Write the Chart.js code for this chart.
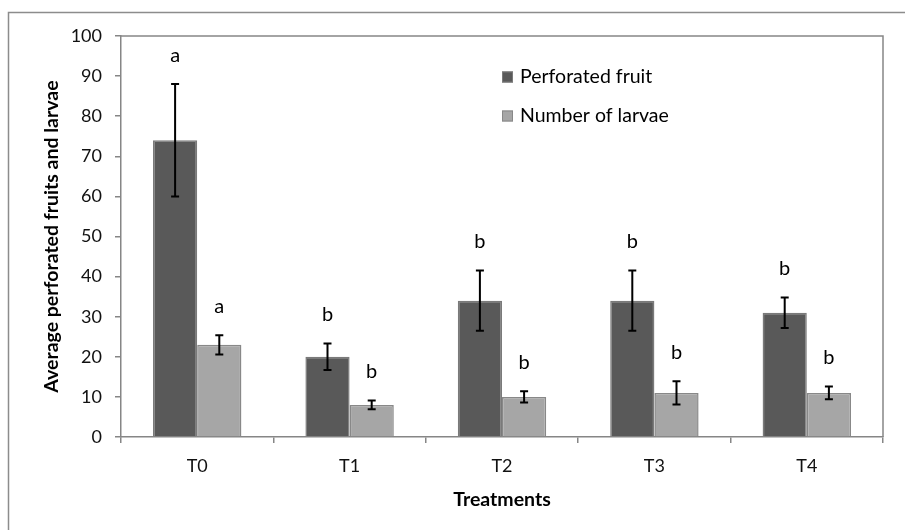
<!DOCTYPE html>
<html>
<head>
<meta charset="utf-8">
<script src="https://cdn.jsdelivr.net/npm/chart.js@4/dist/chart.umd.min.js"></script>
<style>
  html, body { margin: 0; padding: 0; background: #fff; }
  #wrap { width: 905px; height: 530px; position: relative; }
</style>
</head>
<body>
<div id="wrap"><canvas id="c" width="905" height="530"></canvas></div>
<script>
// ---- data ----
const categories = ['T0', 'T1', 'T2', 'T3', 'T4'];
const perforatedFruit = [74, 20, 34, 34, 31];
const perforatedErr = [14, 3.3, 7.5, 7.5, 3.8];
const perforatedLetters = ['a', 'b', 'b', 'b', 'b'];
const numberOfLarvae = [23, 8, 10, 11, 11];
const larvaeErr = [2.4, 1.1, 1.4, 2.9, 1.6];
const larvaeLetters = ['a', 'b', 'b', 'b', 'b'];
const yTicks = [0, 10, 20, 30, 40, 50, 60, 70, 80, 90, 100];

const FONT = 'Lato, "Open Sans", sans-serif';
const AXIS_GREY = '#868686';

const errors = [perforatedErr, larvaeErr];
const letters = [perforatedLetters, larvaeLetters];

const framePlugin = {
  id: 'frame',
  beforeDraw(chart) {
    const ctx = chart.ctx;
    ctx.save();
    ctx.fillStyle = '#fff';
    ctx.fillRect(0, 0, chart.width, chart.height);
    ctx.strokeStyle = '#8c8c8c';
    ctx.lineWidth = 1.5;
    ctx.beginPath();
    ctx.moveTo(8.5, chart.height + 5);
    ctx.lineTo(8.5, 12.5);
    ctx.lineTo(chart.width + 5, 12.5);
    ctx.stroke();
    ctx.restore();
  },
  afterDraw(chart) {
    const {ctx, chartArea: a} = chart;
    ctx.save();
    ctx.strokeStyle = AXIS_GREY;
    ctx.lineWidth = 1.5;
    ctx.beginPath();
    ctx.moveTo(a.left, a.top);
    ctx.lineTo(a.right, a.top);
    ctx.lineTo(a.right, a.bottom);
    ctx.stroke();
    ctx.restore();
  }
};

const errorPlugin = {
  id: 'errs',
  afterDatasetsDraw(chart) {
    const ctx = chart.ctx;
    const y = chart.scales.y;
    ctx.save();
    chart.data.datasets.forEach((ds, di) => {
      const meta = chart.getDatasetMeta(di);
      meta.data.forEach((bar, i) => {
        const v = ds.data[i];
        const e = errors[di][i];
        const top = y.getPixelForValue(v + e);
        const bot = y.getPixelForValue(v - e);
        const x = bar.x;
        ctx.strokeStyle = '#000';
        ctx.lineWidth = 2;
        ctx.beginPath();
        ctx.moveTo(x, top); ctx.lineTo(x, bot);
        ctx.moveTo(x - 4, top); ctx.lineTo(x + 4, top);
        ctx.moveTo(x - 4, bot); ctx.lineTo(x + 4, bot);
        ctx.stroke();
        ctx.fillStyle = '#000';
        ctx.font = '20px ' + FONT;
        ctx.textAlign = 'center';
        ctx.textBaseline = 'middle';
        ctx.fillText(letters[di][i], x, top - 29);
      });
    });
    ctx.restore();
  }
};

const legendPlugin = {
  id: 'inLegend',
  afterDraw(chart) {
    const ctx = chart.ctx;
    ctx.save();
    chart.data.datasets.forEach((ds, i) => {
      const cy = 77 + i * 39;
      ctx.fillStyle = ds.backgroundColor;
      ctx.fillRect(502, cy - 5.5, 11, 11);
      ctx.strokeStyle = ds.borderColor;
      ctx.lineWidth = 1;
      ctx.strokeRect(502.5, cy - 5, 10, 10);
      ctx.fillStyle = '#000';
      ctx.font = '19.5px ' + FONT;
      ctx.textAlign = 'left';
      ctx.textBaseline = 'middle';
      ctx.fillText(ds.label, 520, cy);
    });
    ctx.restore();
  }
};

new Chart(document.getElementById('c'), {
  type: 'bar',
  data: {
    labels: categories,
    datasets: [
      { label: 'Perforated fruit', data: perforatedFruit, backgroundColor: '#595959', borderColor: '#7a7a7a', borderWidth: 1.5 },
      { label: 'Number of larvae', data: numberOfLarvae, backgroundColor: '#a6a6a6', borderColor: '#888888', borderWidth: 1.5 }
    ]
  },
  options: {
    responsive: false,
    animation: false,
    devicePixelRatio: 1,
    layout: { padding: { top: 36, right: 22, left: 0, bottom: 0 } },
    datasets: { bar: { categoryPercentage: 0.58, barPercentage: 1.0 } },
    plugins: { legend: { display: false }, tooltip: { enabled: false } },
    scales: {
      x: {
        offset: true,
        afterFit(s) { s.height = 93; },
        grid: { display: true, drawOnChartArea: false, drawTicks: true, tickLength: 6, offset: true, color: AXIS_GREY, lineWidth: 1.5 },
        border: { display: true, color: AXIS_GREY, width: 1.5 },
        ticks: { color: '#111', font: { family: FONT, size: 18 }, padding: 12 },
        title: { display: true, text: 'Treatments', color: '#000', font: { family: FONT, size: 19.5, weight: 'bold' }, padding: { top: 0, bottom: 19 } }
      },
      y: {
        min: 0, max: 100,
        afterFit(s) { s.width = 121; },
        afterBuildTicks(s) { s.ticks = yTicks.map(v => ({ value: v })); },
        grid: { display: true, drawOnChartArea: false, drawTicks: true, tickLength: 6, color: AXIS_GREY, lineWidth: 1.5 },
        border: { display: true, color: AXIS_GREY, width: 1.5 },
        ticks: { color: '#111', font: { family: FONT, size: 18 }, padding: 13 },
        title: { display: true, text: 'Average perforated fruits and larvae', color: '#000', font: { family: FONT, size: 19.5, weight: 'bold' }, padding: { top: 40, bottom: 0 } }
      }
    }
  },
  plugins: [framePlugin, errorPlugin, legendPlugin]
});
</script>
</body>
</html>
